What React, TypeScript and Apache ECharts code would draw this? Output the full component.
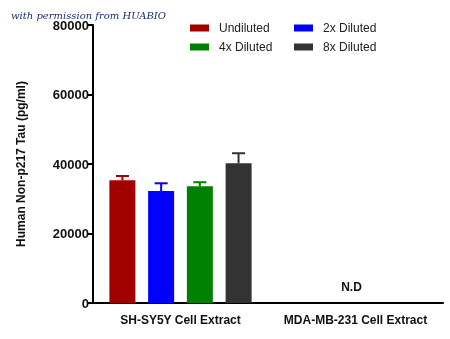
import React, { useEffect, useRef } from "react";
import * as echarts from "echarts";

const categories = ["SH-SY5Y Cell Extract", "MDA-MB-231 Cell Extract"];
const seriesNames = ["Undiluted", "2x Diluted", "4x Diluted", "8x Diluted"];
const colors = ["#a00000", "#0000ff", "#008000", "#333333"];
const undiluted = [35300, null];
const diluted2x = [32200, null];
const diluted4x = [33600, null];
const diluted8x = [40200, null];
const errUndiluted = [1250, null];
const err2x = [2250, null];
const err4x = [1150, null];
const err8x = [2900, null];
const yTicks = [0, 20000, 40000, 60000, 80000];
const ndLabel = "N.D";

const values = [undiluted, diluted2x, diluted4x, diluted8x];
const errors = [errUndiluted, err2x, err4x, err8x];

export default function App() {
  const ref = useRef<HTMLDivElement>(null);
  useEffect(() => {
    if (!ref.current) return;
    const chart = echarts.init(ref.current, null, { renderer: "svg" });
    const barWidth = 26;
    const spacing = 38.7;
    const font = "'Liberation Sans', Arial, sans-serif";

    const barSeries = seriesNames.map((name, i) => ({
      type: "bar",
      name,
      data: values[i],
      barWidth,
      barGap: "49%",
      itemStyle: { color: colors[i] },
      z: 2,
    }));

    const errSeries = seriesNames.map((name, i) => ({
      type: "custom",
      name: name + "-err",
      data: categories
        .map((c, j) => (values[i][j] == null ? null : [j, values[i][j], errors[i][j]]))
        .filter((d) => d != null),
      renderItem: (params: any, api: any) => {
        const x = api.value(0);
        const v = api.value(1);
        const e = api.value(2);
        const base = api.coord([x, v]);
        const top = api.coord([x, v + e]);
        const cx = base[0] + (i - 1.5) * spacing;
        const half = 6.5;
        return {
          type: "group",
          children: [
            { type: "line", shape: { x1: cx, y1: base[1], x2: cx, y2: top[1] }, style: { stroke: colors[i], lineWidth: 2 } },
            { type: "line", shape: { x1: cx - half, y1: top[1], x2: cx + half, y2: top[1] }, style: { stroke: colors[i], lineWidth: 2 } },
          ],
        };
      },
      z: 3,
      silent: true,
    }));

    const ndSeries = {
      type: "custom",
      name: "nd",
      data: [[1, 0]],
      renderItem: (params: any, api: any) => {
        const p = api.coord([api.value(0), api.value(1)]);
        return {
          type: "text",
          style: {
            text: ndLabel,
            x: p[0] - 4,
            y: p[1] - 16,
            align: "center",
            verticalAlign: "middle",
            font: `bold 12px ${font}`,
            fill: "#111",
          },
        };
      },
      silent: true,
    };

    const legendPos = [
      [190, 22],
      [294, 22],
      [190, 41],
      [294, 41],
    ];

    chart.setOption({
      animation: false,
      textStyle: { fontFamily: font },
      grid: { left: 93, right: 7, top: 25, bottom: 36, containLabel: false },
      legend: seriesNames.map((n, i) => ({
        data: [n],
        left: legendPos[i][0],
        top: legendPos[i][1],
        itemWidth: 19,
        itemHeight: 7,
        itemGap: 0,
        padding: 0,
        textStyle: { fontSize: 12, color: "#222", fontFamily: font, padding: [0, 0, 0, 5] },
        icon: "rect",
      })),
      xAxis: {
        type: "category",
        data: categories,
        axisLine: { lineStyle: { color: "#000", width: 2 } },
        axisTick: { alignWithLabel: true, length: 3, lineStyle: { color: "#000", width: 2 } },
        axisLabel: { interval: 0, fontWeight: "bold", fontSize: 12, color: "#111", margin: 11, fontFamily: font },
      },
      yAxis: {
        type: "value",
        min: 0,
        max: 80000,
        interval: 20000,
        name: "Human Non-p217 Tau (pg/ml)",
        nameLocation: "middle",
        nameGap: 66,
        nameTextStyle: { fontWeight: "bold", fontSize: 12, color: "#111", fontFamily: font },
        axisLine: { show: true, lineStyle: { color: "#000", width: 2 } },
        axisTick: { show: true, length: 5, lineStyle: { color: "#000", width: 2 } },
        axisLabel: {
          fontWeight: "bold",
          fontSize: 13,
          color: "#111",
          margin: 4,
          fontFamily: font,
          formatter: (v: number) => (yTicks.includes(v) ? String(v) : ""),
        },
        splitLine: { show: false },
      },
      graphic: [
        {
          type: "text",
          left: 11,
          top: 10,
          style: {
            text: "with permission from HUABIO",
            font: "italic 10px 'DejaVu Serif', serif",
            fill: "#1a2f6e",
          },
          z: 10,
        },
      ],
      series: [...barSeries, ...errSeries, ndSeries],
    });
    return () => chart.dispose();
  }, []);
  return <div ref={ref} style={{ position: "fixed", left: 0, top: 0, width: 450, height: 339 }} />;
}
